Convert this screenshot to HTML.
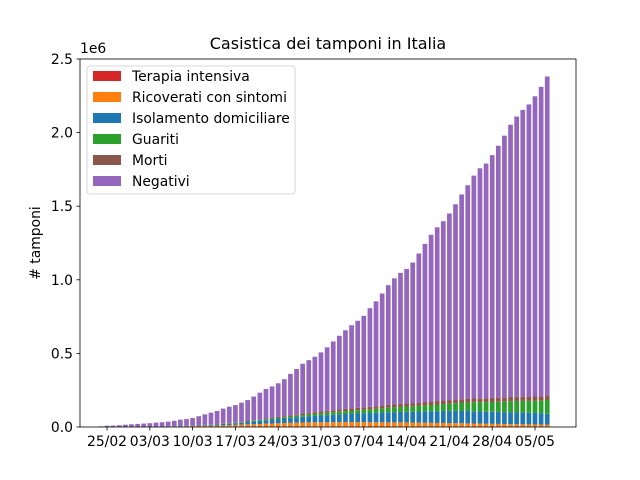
<!DOCTYPE html>
<html><head><meta charset="utf-8"><style>
body{margin:0;background:#fff;}
svg{display:block;font-family:"DejaVu Sans","Liberation Sans",sans-serif;}
</style></head><body>
<svg id="chart" width="640" height="480" viewBox="0 0 640 480">
<rect width="640" height="480" fill="#fff"/>
<text x="328" y="49" text-anchor="middle" font-size="16">Casistica dei tamponi in Italia</text>
<text x="80" y="53" font-size="13.9">1e6</text>
<text transform="translate(40,243) rotate(-90)" text-anchor="middle" font-size="13.9"># tamponi</text>
<g id="bars"></g>
<g id="axes"></g>
</svg>
<script>
const categories=["24/02","25/02","26/02","27/02","28/02","29/02","01/03","02/03","03/03","04/03","05/03","06/03","07/03","08/03","09/03","10/03","11/03","12/03","13/03","14/03","15/03","16/03","17/03","18/03","19/03","20/03","21/03","22/03","23/03","24/03","25/03","26/03","27/03","28/03","29/03","30/03","31/03","01/04","02/04","03/04","04/04","05/04","06/04","07/04","08/04","09/04","10/04","11/04","12/04","13/04","14/04","15/04","16/04","17/04","18/04","19/04","20/04","21/04","22/04","23/04","24/04","25/04","26/04","27/04","28/04","29/04","30/04","01/05","02/05","03/05","04/05","05/05","06/05","07/05"];
const tamponi=[4324,8623,9587,12014,15695,18661,21127,23345,25856,29837,32362,36359,42062,49937,53826,60761,73154,86011,97488,109170,124899,137962,148657,165541,182777,206886,233222,258402,275468,296964,324445,361060,394079,429526,454030,477359,506968,541314,581232,619849,657224,691461,721732,755445,807125,853369,906864,963473,1010193,1046910,1073689,1117404,1178403,1244108,1305833,1356541,1398024,1450150,1513251,1579909,1642356,1707743,1757659,1789662,1846934,1910761,1979217,2053425,2108837,2153772,2191403,2246666,2310929,2381288];
const terapiaIntensiva=[26,35,36,56,64,105,140,166,229,295,351,462,567,650,733,877,1028,1153,1328,1518,1672,1851,2060,2257,2498,2655,2857,3009,3204,3396,3489,3612,3732,3856,3906,3981,4023,4035,4053,4068,3994,3977,3898,3792,3693,3605,3497,3381,3343,3260,3186,3079,2936,2812,2733,2635,2573,2471,2384,2267,2173,2102,2009,1956,1863,1795,1694,1578,1539,1501,1479,1427,1333,1311];
const ricoverati=[101,114,128,248,345,401,639,742,1034,1346,1790,2394,2651,3557,4316,5038,5838,6650,7426,8372,9663,11025,12894,14363,15757,16020,17708,19846,20692,21937,23112,24753,26029,26676,27386,27795,28192,28403,28540,28741,29010,28949,28976,28485,28399,28242,28144,28023,27847,28011,28023,27643,26893,26298,25786,25007,24906,24134,23805,22871,22068,21533,21372,20353,19723,19210,18149,17357,17242,16823,16270,15769,15174,14636];
const isolamento=[94,162,221,284,412,543,798,927,1000,1065,1155,1060,1843,2180,2936,2599,3724,5036,6201,7860,9268,10197,11108,12090,14935,19185,22116,23783,26522,28697,30920,33648,36653,39533,42588,43752,45420,48134,50456,52579,55270,58320,58903,61557,63084,64873,66534,68744,69631,71063,72333,73094,75528,77257,78364,80031,81510,82722,83504,83652,84802,83324,82286,81708,81796,81510,80758,80589,79914,79023,78249,77714,76551,74426];
const guariti=[1,1,3,45,46,46,50,83,149,160,276,414,523,589,622,724,1004,1045,1258,1439,1966,2335,2749,2941,4025,4440,5129,6072,7024,7432,8326,9362,10361,10950,12384,13030,14620,15729,16847,18278,19758,20996,21815,22837,24392,26491,28470,30455,32534,34211,35435,37130,38092,40164,42727,44927,47055,48877,51600,54543,57576,60498,63120,64928,66624,68941,71252,75945,78249,79914,81654,82879,85231,93245];
const morti=[7,10,12,17,21,29,34,52,79,107,148,197,233,366,463,631,827,1016,1266,1441,1809,2158,2503,2978,3405,4032,4825,5476,6077,6820,7503,8165,9134,10023,10779,11591,12428,13155,13915,14681,15362,15887,16523,17127,17669,18279,18849,19468,19899,20465,21067,21645,22170,22745,23227,23660,24114,24648,25085,25549,25969,26384,26644,26977,27359,27682,27967,28236,28710,28884,29079,29315,29684,29958];
const yTicks=[0,0.5e6,1e6,1.5e6,2e6,2.5e6];
const yTickLabels=["0.0","0.5","1.0","1.5","2.0","2.5"];
const xTickIdx=[1,8,15,22,29,36,43,50,57,64,71];
const seriesNames=["Terapia intensiva","Ricoverati con sintomi","Isolamento domiciliare","Guariti","Morti","Negativi"];
const colors=["#d62728","#ff7f0e","#1f77b4","#2ca02c","#8c564b","#9467bd"];

const NS="http://www.w3.org/2000/svg";
const L=80,R=576,T=59,B=427;
const yMax=2.5e6;
const y=v=>B-(v/yMax)*(B-T);
const x=i=>100.9+i*6.114;
const bw=4.7;
function mk(tag,attrs,parent){const e=document.createElementNS(NS,tag);for(const k in attrs)e.setAttribute(k,attrs[k]);parent.appendChild(e);return e;}
const bars=document.getElementById('bars'),axes=document.getElementById('axes');
const negativi=tamponi.map((t,i)=>t-terapiaIntensiva[i]-ricoverati[i]-isolamento[i]-guariti[i]-morti[i]);
const series=[terapiaIntensiva,ricoverati,isolamento,guariti,morti,negativi];
categories.forEach((c,i)=>{
  let base=0;
  series.forEach((s,k)=>{
    const v=Math.max(0,s[i]);
    const r=mk('rect',{x:(x(i)-bw/2).toFixed(2),y:y(base+v).toFixed(2),width:bw,height:(y(base)-y(base+v)).toFixed(2),fill:colors[k]},bars);
    
    
    base+=v;
  });
});
const frame=mk('rect',{x:L,y:T,width:R-L,height:B-T,fill:'none',stroke:'#000','stroke-width':0.8},axes);


yTicks.forEach((v,i)=>{
  const yy=y(v);
  mk('line',{x1:L-3.5,x2:L,y1:yy,y2:yy,stroke:'#000','stroke-width':0.8},axes);
  const t=mk('text',{x:L-7,y:yy+5,'text-anchor':'end','font-size':13.9},axes);
  t.textContent=yTickLabels[i];
  
  
});
xTickIdx.forEach(i=>{
  const xx=x(i);
  mk('line',{x1:xx,x2:xx,y1:B,y2:B+3.5,stroke:'#000','stroke-width':0.8},axes);
  const t=mk('text',{x:xx,y:B+19,'text-anchor':'middle','font-size':13.9},axes);
  t.textContent=categories[i];
  
  
});
// legend
const lg=mk('g',{},axes);


mk('rect',{x:87,y:66,width:208,height:128,rx:3,fill:'#fff','fill-opacity':0.8,stroke:'#ccc','stroke-width':0.8},lg);
seriesNames.forEach((n,k)=>{
  const yy=76+k*21;
  const e=mk('g',{},lg);
  
  
  mk('rect',{x:93,y:yy-5,width:28,height:10,fill:colors[k]},e);
  const t=mk('text',{x:132,y:yy+5,'font-size':13.9},e);
  t.textContent=n;
});
</script>
</body></html>
